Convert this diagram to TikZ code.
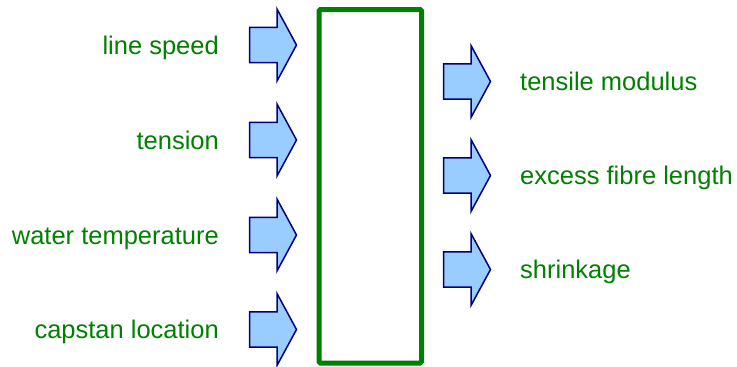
\documentclass[tikz,border=0pt]{standalone}
\usepackage{fontspec}
\setmainfont{Liberation Sans}
\definecolor{mygreen}{RGB}{0,128,0}
\definecolor{myfill}{RGB}{153,204,255}
\definecolor{mynavy}{RGB}{0,0,128}
\tikzset{blockarrow/.pic={
  \draw[arrowline] (0,-17.7) -- (27.5,-17.7) -- (27.5,-36) -- (47,0)
    -- (27.5,36) -- (27.5,17.7) -- (0,17.7) -- cycle;}}
\begin{document}
\begin{tikzpicture}[x=1pt,y=-1pt,
  arrowline/.style={draw=mynavy,fill=myfill,line width=1.5pt,line join=miter},
  procbox/.style={draw=mygreen,line width=5pt,rounded corners=1.5pt,
    minimum width=102.5pt,minimum height=353.5pt,inner sep=0pt},
  lbl/.style={text=mygreen,inner sep=0pt,font=\fontsize{25.5}{30}\selectfont}]

  \useasboundingbox (0,0) rectangle (737,367);

  \node[procbox] (proc) at (370.25,186.25) {};

  % inputs
  \pic (in1) at (249.5,45) {blockarrow};
  \pic (in2) at (249.5,140) {blockarrow};
  \pic (in3) at (249.5,235) {blockarrow};
  \pic (in4) at (249.5,329.5) {blockarrow};

  \node[lbl,anchor=base east] (inlab1) at (219,54) {line speed};
  \node[lbl,anchor=base east] (inlab2) at (219,149) {tension};
  \node[lbl,anchor=base east] (inlab3) at (219,244) {water temperature};
  \node[lbl,anchor=base east] (inlab4) at (219,338.5) {capstan location};

  % outputs
  \pic (out1) at (443.5,81.5) {blockarrow};
  \pic (out2) at (443.5,175.5) {blockarrow};
  \pic (out3) at (443.5,269.5) {blockarrow};

  \node[lbl,anchor=base west] (outlab1) at (520,90) {tensile modulus};
  \node[lbl,anchor=base west] (outlab2) at (520,184) {excess fibre length};
  \node[lbl,anchor=base west] (outlab3) at (520,278) {shrinkage};

\end{tikzpicture}
\end{document}
